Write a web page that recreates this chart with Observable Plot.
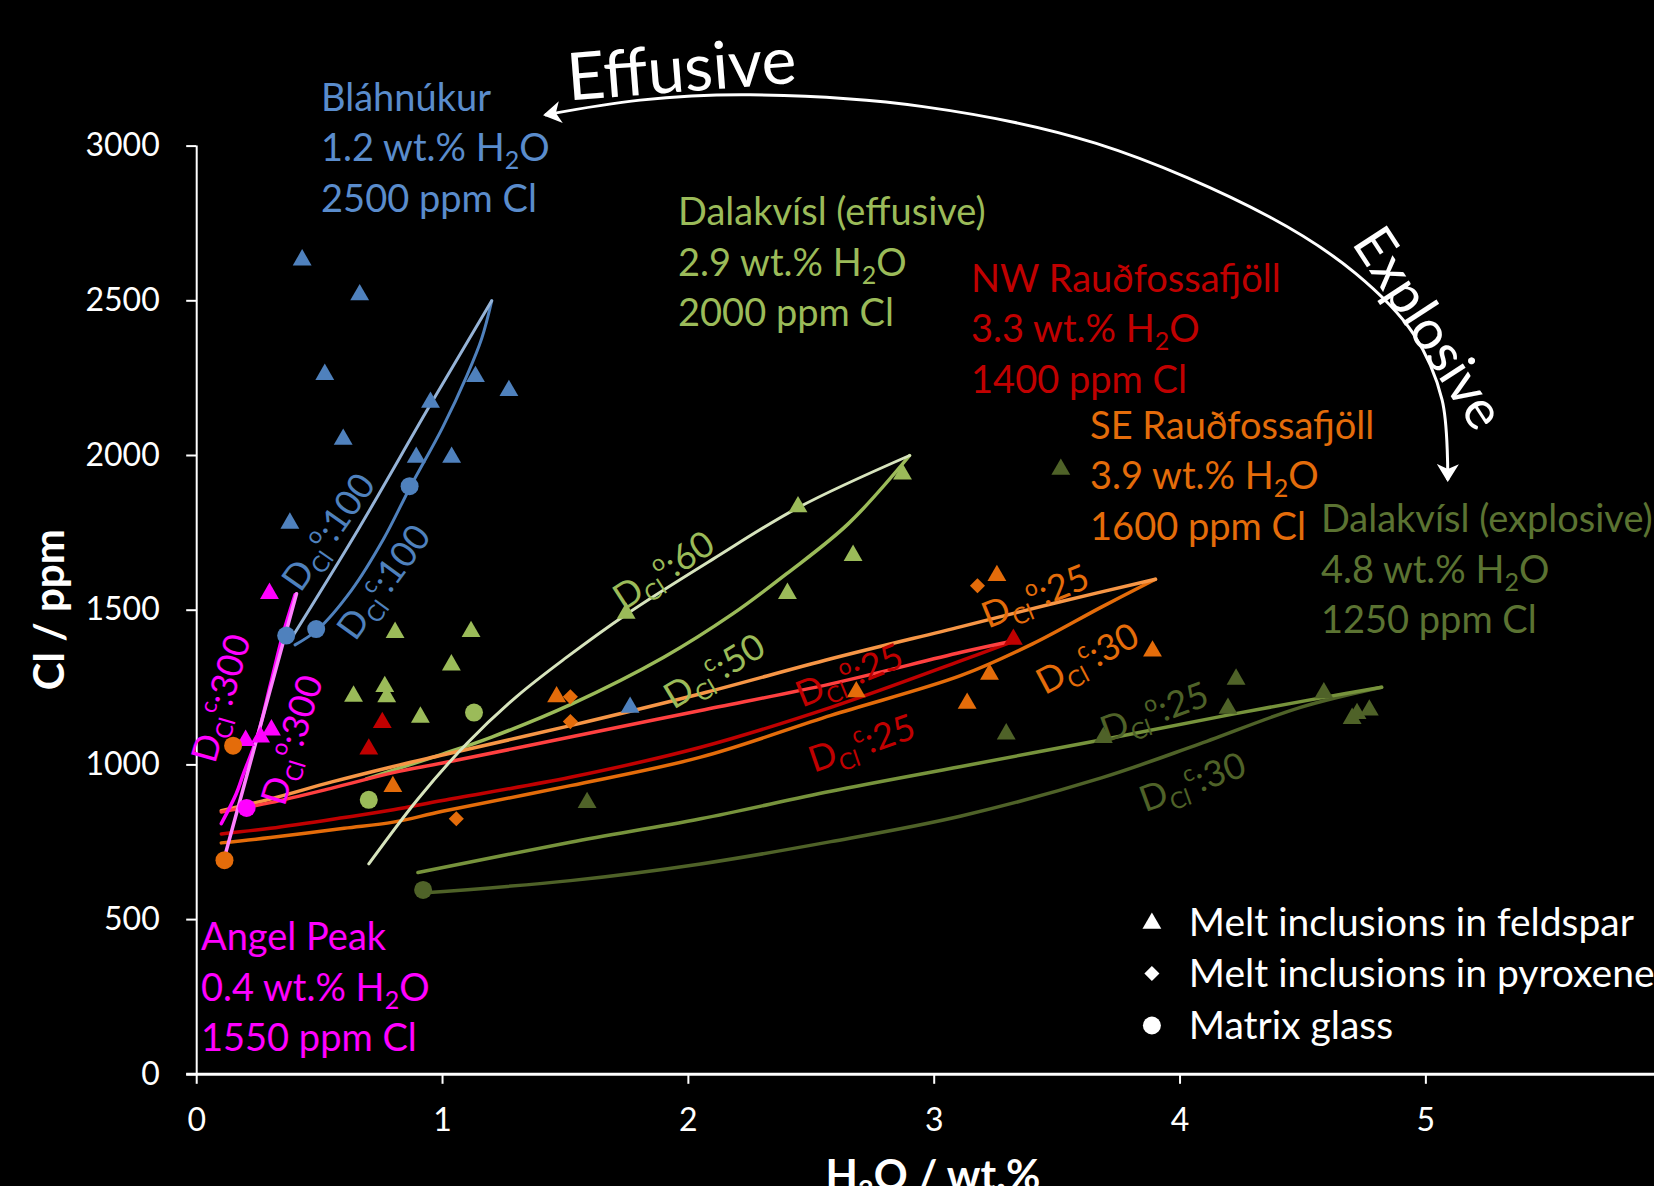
<!DOCTYPE html>
<html><head><meta charset="utf-8">
<script src="https://cdn.jsdelivr.net/npm/d3@7"></script>
<script src="https://cdn.jsdelivr.net/npm/@observablehq/plot@0.6"></script>
<style>
html,body{margin:0;padding:0;background:#000;}
#chart{width:1654px;height:1186px;overflow:hidden;}
svg{display:block;}
</style></head><body><div id="chart"></div>
<script>
// ---------- axis ticks ----------
const xTicks = [0, 1, 2, 3, 4, 5];
const yTicks = [0, 500, 1000, 1500, 2000, 2500, 3000];

// ---------- Bláhnúkur ----------
const blahnukurFeldspar = [[0.429,2632],[0.663,2519],[0.521,2262],[0.596,2052],[0.379,1781],[0.951,2172],[1.134,2255],[1.270,2210],[0.893,1994],[1.037,1994],[1.763,1186]];
const blahnukurGlass = [[0.364,1418],[0.486,1439],[0.866,1901]];
const blahnukurOpen = [[0.39,1415],[0.66,1765],[0.94,2150],[1.2,2500]];
const blahnukurClosed = [[0.40,1388],[0.49,1436],[0.63,1565],[0.76,1730],[0.87,1900],[1.0,2090],[1.1,2260],[1.16,2380],[1.2,2500]];

// ---------- Angel Peak ----------
const angelFeldspar = [[0.296,1554],[0.199,1079],[0.26,1090],[0.304,1113]];
const angelGlass = [[0.203,861]];
const angelOpen = [[0.117,713],[0.26,1129],[0.406,1553]];
const angelClosed = [[0.10,810],[0.16,905],[0.19,971],[0.246,1090],[0.30,1260],[0.35,1420],[0.40,1550]];

// ---------- Dalakvísl (effusive) ----------
const dalEffFeldspar = [[2.871,1940],[2.67,1677],[2.446,1834],[2.403,1554],[1.747,1490],[0.807,1428],[1.116,1431],[1.036,1323],[0.638,1222],[0.765,1253],[0.773,1220],[0.91,1154]];
const dalEffGlass = [[1.128,1169],[0.70,887]];
const dalEffOpen = [[0.70,680],[0.9,890],[1.1,1070],[1.3,1220],[1.5,1345],[1.75,1488],[2.1,1665],[2.45,1833],[2.9,2000]];
const dalEffClosed = [[0.69,955],[1.0,1035],[1.2,1090],[1.52,1195],[1.9,1348],[2.18,1488],[2.4,1618],[2.65,1779],[2.9,2000]];

// ---------- NW Rauðfossafjöll ----------
const nwFeldspar = [[0.755,1137],[0.70,1051],[3.322,1406]];
const nwOpen = [[0.1,848],[0.3,878],[0.55,925],[0.8,975],[1.0,1006],[1.52,1090],[2.05,1176],[2.58,1262],[3.11,1364],[3.33,1402]];
const nwClosed = [[0.1,777],[0.3,795],[0.6,830],[0.8,855],[1.0,885],[1.52,960],[2.05,1057],[2.58,1186],[3.11,1337],[3.33,1402]];

// ---------- SE Rauðfossafjöll ----------
const seFeldspar = [[0.798,930],[1.464,1220],[2.683,1236],[3.134,1199],[3.225,1293],[3.255,1612],[3.888,1368]];
const sePyroxene = [[1.056,826],[1.520,1220],[1.520,1140],[3.176,1579]];
const seGlass = [[0.148,1062],[0.113,692]];
const seOpen = [[0.1,852],[0.3,890],[0.55,945],[0.8,995],[1.0,1032],[1.52,1127],[2.05,1230],[2.58,1343],[3.11,1447],[3.5,1525],[3.9,1600]];
const seClosed = [[0.1,748],[0.3,765],[0.6,795],[0.8,815],[1.0,850],[1.52,933],[2.05,1025],[2.58,1160],[3.11,1289],[3.4,1391],[3.68,1510],[3.9,1600]];

// ---------- Dalakvísl (explosive) ----------
const dalExpFeldspar = [[3.515,1955],[1.588,878],[3.293,1100],[3.688,1088],[4.195,1183],[4.228,1277],[4.585,1233],[4.70,1150],[4.72,1166],[4.77,1177]];
const dalExpGlass = [[0.921,596]];
const dalExpOpen = [[0.9,652],[1.52,750],[2.05,826],[2.58,915],[3.11,995],[3.7,1084],[4.22,1165],[4.59,1219],[4.82,1251]];
const dalExpClosed = [[0.9,585],[1.52,626],[2.05,680],[2.58,752],[3.11,835],[3.68,958],[4.08,1068],[4.49,1186],[4.82,1251]];

// ---------- annotation text ----------
const regionNames = ["Bláhnúkur", "Dalakvísl (effusive)", "NW Rauðfossafjöll", "SE Rauðfossafjöll", "Dalakvísl (explosive)", "Angel Peak"];
const regionH2O = ["1.2", "2.9", "3.3", "3.9", "4.8", "0.4"];
const regionCl = ["2500", "2000", "1400", "1600", "1250", "1550"];
const regionAnchorX = [0.508, 1.960, 3.152, 3.636, 4.575, 0.0195];
const regionAnchorY = [3112, 2743, 2527, 2052, 1751, 400];

const labelSup = ["o","c","c","o","o","c","o","c","o","c","o","c"];
const labelVal = [":100",":100",":300",":300",":60",":50",":25",":25",":25",":30",":25",":30"];
const labelX = [0.537, 0.762, 0.100, 0.389, 1.901, 2.107, 2.656, 2.707, 3.413, 3.625, 3.897, 4.052];
const labelY = [1752, 1590, 1214, 1079, 1628, 1302, 1289, 1069, 1544, 1343, 1170, 944];

const legendLabels = ["Melt inclusions in feldspar", "Melt inclusions in pyroxene", "Matrix glass"];

// arc "Effusive" <-> "Explosive" in data units
const arcX = [1.419, 1.806, 2.253, 2.957, 3.661, 4.365, 4.716, 4.950, 5.068, 5.091];
const arcY = [3099, 3147, 3164, 3126, 3007, 2770, 2587, 2393, 2178, 1919];

// ---------- styles ----------
const C = {
  blue: "#4f81bd", blueLight: "#95b3d7",
  mag: "#ff00ff", magLight: "#ff80ff",
  green: "#9bbb59", greenLight: "#d7e4bd",
  red: "#c00000", redLight: "#ff4040",
  orange: "#e46c0a", orangeLight: "#f79646",
  olive: "#4f6228", oliveLight: "#77933c"
};
const regionColors = ["#5a8ccc", C.green, C.red, C.orange, "#5b7332", C.mag];
const labelColors = [C.blue, C.blue, C.mag, C.mag, C.green, C.green, C.red, C.red, C.orange, C.orange, C.olive, C.olive];
const labelAngles = [-55, -54, -74, -73, -33, -31, -22, -19, -22, -28, -20, -20];

const FONT = "Lato, 'Open Sans', sans-serif";
const px = d => d[0], py = d => d[1];

const curves = [
  [dalExpClosed, C.olive, 3.5], [dalExpOpen, C.oliveLight, 3.5],
  [dalEffClosed, C.green, 3.5],
  [seClosed, C.orange, 3.5], [nwClosed, C.red, 3.5],
  [seOpen, C.orangeLight, 3.5], [nwOpen, C.redLight, 3.5],
  [dalEffOpen, C.greenLight, 3],
  [blahnukurClosed, C.blue, 3], [blahnukurOpen, C.blueLight, 3],
  [angelClosed, C.mag, 3.5], [angelOpen, C.magLight, 3.5]
];
const TRI = 7, CIR = 9, DIA = 6.8;
const pointSets = [
  [blahnukurFeldspar, C.blue, "triangle", TRI], [blahnukurGlass, C.blue, "circle", CIR],
  [angelFeldspar, C.mag, "triangle", TRI], [angelGlass, C.mag, "circle", CIR],
  [dalEffFeldspar, C.green, "triangle", TRI], [dalEffGlass, C.green, "circle", CIR],
  [nwFeldspar, C.red, "triangle", TRI],
  [seFeldspar, C.orange, "triangle", TRI], [sePyroxene, C.orange, "diamond2", DIA], [seGlass, C.orange, "circle", CIR],
  [dalExpFeldspar, C.olive, "triangle", TRI], [dalExpGlass, C.olive, "circle", CIR]
];

const plot = Plot.plot({
  width: 1654, height: 1186,
  marginLeft: 196.2, marginRight: 0, marginTop: 145.6, marginBottom: 112.2,
  x: {domain: [0, 5.93]},
  y: {domain: [0, 3000]},
  style: {background: "#000", color: "#fff", fontFamily: FONT, overflow: "visible"},
  marks: [
    Plot.axisY({ticks: yTicks, tickSize: 10, tickPadding: 27, fontSize: 32, tickFormat: d => String(d), label: null, stroke: "#fff", strokeWidth: 2}),
    Plot.axisX({ticks: xTicks, tickSize: 10, tickPadding: 24, fontSize: 32, tickFormat: d => String(d), label: null, stroke: "#fff", strokeWidth: 2}),
    Plot.ruleX([0], {y1: 0, y2: 3000, stroke: "#fff", strokeWidth: 2}),
    Plot.ruleY([0], {stroke: "#fff", strokeWidth: 3, insetLeft: -10}),
    ...curves.map(([data, color, w]) => Plot.line(data, {x: px, y: py, stroke: color, strokeWidth: w, curve: "catmull-rom"})),
    ...pointSets.map(([data, color, sym, r]) => Plot.dot(data, {x: px, y: py, symbol: sym, r, fill: color, stroke: "none"}))
  ]
});

const svg = d3.select(plot);
const sx = plot.scale("x"), sy = plot.scale("y");
const X = v => sx.apply(v), Y = v => sy.apply(v);
const ann = svg.append("g").attr("font-family", FONT);

// arrowhead marker
const defs = svg.append("defs");
defs.append("marker").attr("id", "ah").attr("viewBox", "0 0 18 22").attr("refX", 16).attr("refY", 11)
  .attr("markerWidth", 18).attr("markerHeight", 22).attr("markerUnits", "userSpaceOnUse").attr("orient", "auto-start-reverse")
  .append("path").attr("d", "M0,0 L18,11 L0,22 L5,11 Z").attr("fill", "#fff");

const arcPts = arcX.map((x, i) => [X(x), Y(arcY[i])]);
ann.append("path").attr("d", d3.line().curve(d3.curveCatmullRom)(arcPts))
  .attr("fill", "none").attr("stroke", "#fff").attr("stroke-width", 3)
  .attr("marker-start", "url(#ah)").attr("marker-end", "url(#ah)");

ann.append("text").attr("transform", `translate(${X(1.974)},${Y(3249)}) rotate(-4.5)`)
  .attr("text-anchor", "middle").attr("dy", "0.35em").attr("font-size", 66).attr("fill", "#fff").text("Effusive");
ann.append("text").attr("transform", `translate(${X(5.016)},${Y(2411)}) rotate(57)`)
  .attr("text-anchor", "middle").attr("dy", "0.35em").attr("font-size", 55).attr("fill", "#fff").text("Explosive");

// region labels
const LS = 50.5;
regionNames.forEach((name, i) => {
  const x0 = X(regionAnchorX[i]), y0 = Y(regionAnchorY[i]);
  const g = ann.append("g").attr("fill", regionColors[i]).attr("font-size", 38).attr("text-anchor", "start");
  g.append("text").attr("x", x0).attr("y", y0).text(name);
  const t = g.append("text").attr("x", x0).attr("y", y0 + LS);
  t.append("tspan").text(regionH2O[i] + " wt.% H");
  t.append("tspan").attr("font-size", 25).attr("dy", 8).text("2");
  t.append("tspan").attr("dy", -8).text("O");
  g.append("text").attr("x", x0).attr("y", y0 + 2 * LS).text(regionCl[i] + " ppm Cl");
});

// model curve labels
labelSup.forEach((sup, i) => {
  const t = ann.append("text")
    .attr("transform", `translate(${X(labelX[i])},${Y(labelY[i])}) rotate(${labelAngles[i]})`)
    .attr("text-anchor", "middle").attr("fill", labelColors[i]).attr("font-size", 36);
  t.append("tspan").attr("dy", "0.35em").text("D");
  t.append("tspan").attr("font-size", 23).attr("dy", 8).text("Cl");
  t.append("tspan").attr("font-size", 23).attr("dy", -22).text(sup);
  t.append("tspan").attr("dy", 14).text(labelVal[i]);
});

// axis titles
ann.append("text").attr("transform", "translate(49.6,609.7) rotate(-90)").attr("text-anchor", "middle")
  .attr("dy", "0.35em").attr("font-size", 42).attr("font-weight", "bold").attr("fill", "#fff").text("Cl / ppm");
const xt = ann.append("text").attr("x", 933).attr("y", 1190).attr("text-anchor", "middle")
  .attr("font-size", 42).attr("font-weight", "bold").attr("fill", "#fff");
xt.append("tspan").text("H");
xt.append("tspan").attr("font-size", 27).attr("dy", 9).text("2");
xt.append("tspan").attr("dy", -9).text("O / wt.%");

// legend
const legSyms = [d3.symbolTriangle, d3.symbolDiamond2, d3.symbolCircle];
const legR = [TRI, DIA, CIR];
const legY = [923.3, 973.5, 1025.5];
legendLabels.forEach((lab, i) => {
  ann.append("path").attr("transform", `translate(1151.9,${legY[i]})`)
    .attr("d", d3.symbol(legSyms[i], legR[i] * legR[i] * Math.PI)()).attr("fill", "#fff");
  ann.append("text").attr("x", 1188.8).attr("y", legY[i] + 13).attr("text-anchor", "start")
    .attr("font-size", 39).attr("fill", "#fff").text(lab);
});

document.getElementById("chart").appendChild(plot);
</script></body></html>
